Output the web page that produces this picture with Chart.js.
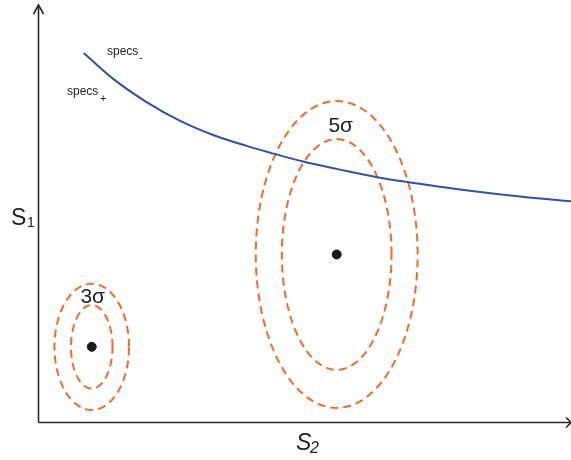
<!DOCTYPE html>
<html>
<head>
<meta charset="utf-8">
<script src="https://cdn.jsdelivr.net/npm/chart.js@4"></script>
<style>
  html, body { margin: 0; padding: 0; background: #fff; }
  #wrap { width: 571px; height: 460px; }
</style>
</head>
<body>
<div id="wrap"><canvas id="c" width="571" height="460"></canvas></div>
<script>
// Spec boundary curve (S2, S1) readings
const specS2 = [0.85, 1.41, 2.03, 2.66, 3.28, 3.91, 4.35, 4.97, 5.60, 6.41, 6.98, 8.10, 9.04, 10.0];
const specS1 = [7.08, 6.58, 6.14, 5.78, 5.51, 5.30, 5.17, 5.00, 4.86, 4.69, 4.60, 4.44, 4.33, 4.24];

// Process clusters: centres and ring half-widths / half-heights (inner, outer)
const clusterS2 = [1.0, 5.6];
const clusterS1 = [1.45, 3.22];
const ringHalfS2 = [[0.39, 0.70], [1.03, 1.52]];
const ringHalfS1 = [[0.80, 1.21], [2.21, 2.94]];
const sigmaLabels = ['3σ', '5σ'];

const ORANGE = '#f26a2e';
const BLUE = '#3450a6';

function ringPoints(cx, cy, rx, ry) {
  const pts = [];
  const n = 160;
  for (let i = 0; i <= n; i++) {
    const t = (i / n) * Math.PI * 2;
    pts.push({ x: cx + rx * Math.cos(t), y: cy + ry * Math.sin(t) });
  }
  return pts;
}

const datasets = [];
datasets.push({
  type: 'line',
  data: specS2.map((x, i) => ({ x, y: specS1[i] })),
  borderColor: BLUE,
  borderWidth: 2,
  pointRadius: 0,
  cubicInterpolationMode: 'monotone',
  fill: false
});
clusterS2.forEach((cx, k) => {
  ringHalfS2[k].forEach((rx, j) => {
    datasets.push({
      type: 'line',
      data: ringPoints(cx, clusterS1[k], rx, ringHalfS1[k][j]),
      borderColor: ORANGE,
      borderWidth: 2,
      borderDash: [8, 5],
      pointRadius: 0,
      tension: 0,
      fill: false
    });
  });
});
datasets.push({
  type: 'scatter',
  data: clusterS2.map((x, i) => ({ x, y: clusterS1[i] })),
  backgroundColor: '#1a1a1a',
  borderColor: '#1a1a1a',
  pointRadius: 4.5,
  pointHoverRadius: 4.5
});

// Axes with open arrowheads plus the annotation text
const annotate = {
  id: 'annotate',
  afterDatasetsDraw(chart) {
    const ctx = chart.ctx;
    const xs = chart.scales.x, ys = chart.scales.y;
    const ox = xs.getPixelForValue(0), oy = ys.getPixelForValue(0);
    const top = chart.chartArea.top, right = chart.chartArea.right;
    ctx.save();
    ctx.strokeStyle = '#2a2a2a';
    ctx.lineWidth = 1.6;
    ctx.beginPath();
    ctx.moveTo(ox, oy); ctx.lineTo(ox, top + 1);
    ctx.moveTo(ox, oy); ctx.lineTo(right, oy);
    ctx.stroke();
    ctx.beginPath();
    ctx.moveTo(ox - 5, top + 9); ctx.lineTo(ox, top); ctx.lineTo(ox + 5, top + 9);
    ctx.moveTo(right - 5, oy - 5); ctx.lineTo(right, oy); ctx.lineTo(right - 5, oy + 5);
    ctx.stroke();

    ctx.fillStyle = '#222';
    ctx.textBaseline = 'alphabetic';
    ctx.textAlign = 'left';
    const f = '"Liberation Sans", Arial, sans-serif';

    // spec labels
    ctx.font = '12px ' + f;
    ctx.fillText('specs', 107, 55);
    ctx.fillText('specs', 67, 95);
    ctx.font = '11px ' + f;
    ctx.fillText('-', 139, 61);
    ctx.fillText('+', 100, 102);

    // sigma labels, placed above each cluster centre
    ctx.font = '21px ' + f;
    ctx.textAlign = 'center';
    const p0x = xs.getPixelForValue(clusterS2[0]);
    const p1x = xs.getPixelForValue(clusterS2[1]);
    ctx.fillText(sigmaLabels[0], p0x + 1, 303);
    ctx.fillText(sigmaLabels[1], p1x + 4, 132);

    // axis titles
    ctx.textAlign = 'left';
    ctx.font = '23px ' + f;
    ctx.fillText('S', 11, 225);
    ctx.font = '14px ' + f;
    ctx.fillText('1', 27, 227);
    ctx.font = 'italic 23px ' + f;
    ctx.fillText('S', 296, 450);
    ctx.font = 'italic 16px ' + f;
    ctx.fillText('2', 310, 453);
    ctx.restore();
  }
};

new Chart(document.getElementById('c'), {
  type: 'scatter',
  data: { datasets },
  options: {
    responsive: false,
    animation: false,
    events: [],
    layout: { autoPadding: false, padding: { left: 38.5, right: 0, top: 5, bottom: 37.5 } },
    plugins: { legend: { display: false }, tooltip: { enabled: false } },
    scales: {
      x: { type: 'linear', min: 0, max: 10, display: false },
      y: { type: 'linear', min: 0, max: 8, display: false }
    },
    clip: false
  },
  plugins: [annotate]
});
</script>
</body>
</html>
